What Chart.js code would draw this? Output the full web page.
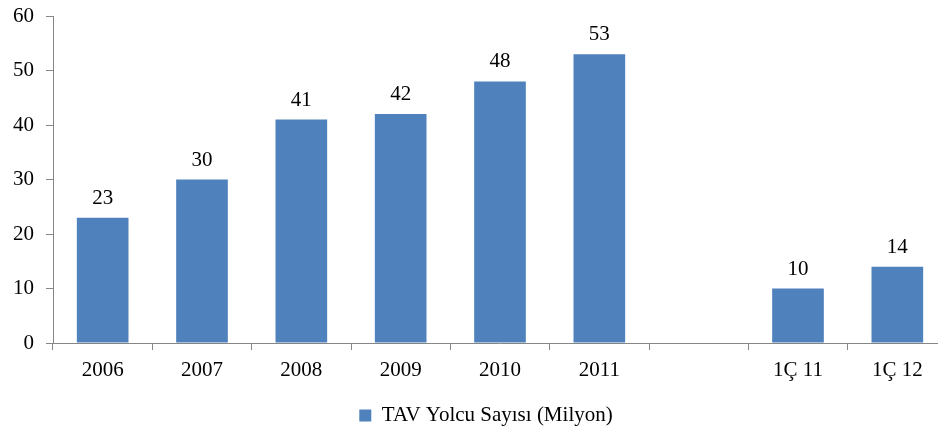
<!DOCTYPE html>
<html>
<head>
<meta charset="utf-8">
<script src="https://cdn.jsdelivr.net/npm/chart.js@4/dist/chart.umd.min.js"></script>
<style>
  html, body { margin: 0; padding: 0; background: #fff; overflow: hidden; }
  #wrap { position: relative; width: 947px; height: 428px; }
</style>
</head>
<body>
<div id="wrap"><canvas id="c"></canvas></div>
<script>
const categories = ['2006', '2007', '2008', '2009', '2010', '2011', '', '1Ç 11', '1Ç 12'];
const passengers = [23, 30, 41, 42, 48, 53, null, 10, 14];
const seriesName = 'TAV Yolcu Sayısı (Milyon)';
const yTicks = { min: 0, max: 60, step: 10 };

const FONT = 'Liberation Serif, Times New Roman, serif';
const AXIS = '#868686';

const valueLabels = {
  id: 'valueLabels',
  afterDatasetsDraw(chart) {
    const ctx = chart.ctx;
    ctx.save();
    ctx.font = '21px ' + FONT;
    ctx.fillStyle = '#000';
    ctx.textAlign = 'center';
    ctx.textBaseline = 'alphabetic';
    chart.getDatasetMeta(0).data.forEach((bar, i) => {
      const v = passengers[i];
      if (v === null || v === undefined) return;
      ctx.fillText(String(v), bar.x, bar.y - 14);
    });
    ctx.restore();
  }
};

const legendShift = {
  id: 'legendShift',
  afterLayout(chart) {
    const lg = chart.legend;
    if (!lg) return;
    lg.left += 25;
    lg.top += 8;
    lg.bottom += 8;
  }
};

new Chart(document.getElementById('c'), {
  type: 'bar',
  data: {
    labels: categories,
    datasets: [{
      label: seriesName,
      data: passengers,
      backgroundColor: '#4F81BD',
      borderWidth: 0,
      barPercentage: 1,
      categoryPercentage: 0.52
    }]
  },
  options: {
    responsive: true,
    maintainAspectRatio: false,
    animation: false,
    layout: { padding: { left: 0, right: 0, top: 16, bottom: 0 } },
    plugins: {
      tooltip: { enabled: false },
      legend: {
        position: 'bottom',
        labels: {
          font: { family: FONT, size: 21 },
          color: '#000',
          boxWidth: 12,
          boxHeight: 12,
          padding: 10
        }
      }
    },
    scales: {
      x: {
        offset: true,
        grid: { display: true, drawOnChartArea: false, offset: true, tickLength: 7, color: AXIS },
        border: { color: AXIS },
        ticks: { font: { family: FONT, size: 21 }, color: '#000', padding: 8, maxRotation: 0, autoSkip: false },
        afterFit(scale) { scale.height = 44; scale.paddingLeft = 0; scale.paddingRight = 0; }
      },
      y: {
        min: yTicks.min,
        max: yTicks.max,
        grid: { display: true, drawOnChartArea: false, tickLength: 7, color: AXIS },
        border: { color: AXIS },
        ticks: { stepSize: yTicks.step, font: { family: FONT, size: 21 }, color: '#000', padding: 12 },
        afterFit(scale) { scale.width = 53; scale.paddingTop = 0; scale.paddingBottom = 0; }
      }
    }
  },
  plugins: [valueLabels, legendShift]
});
</script>
</body>
</html>
